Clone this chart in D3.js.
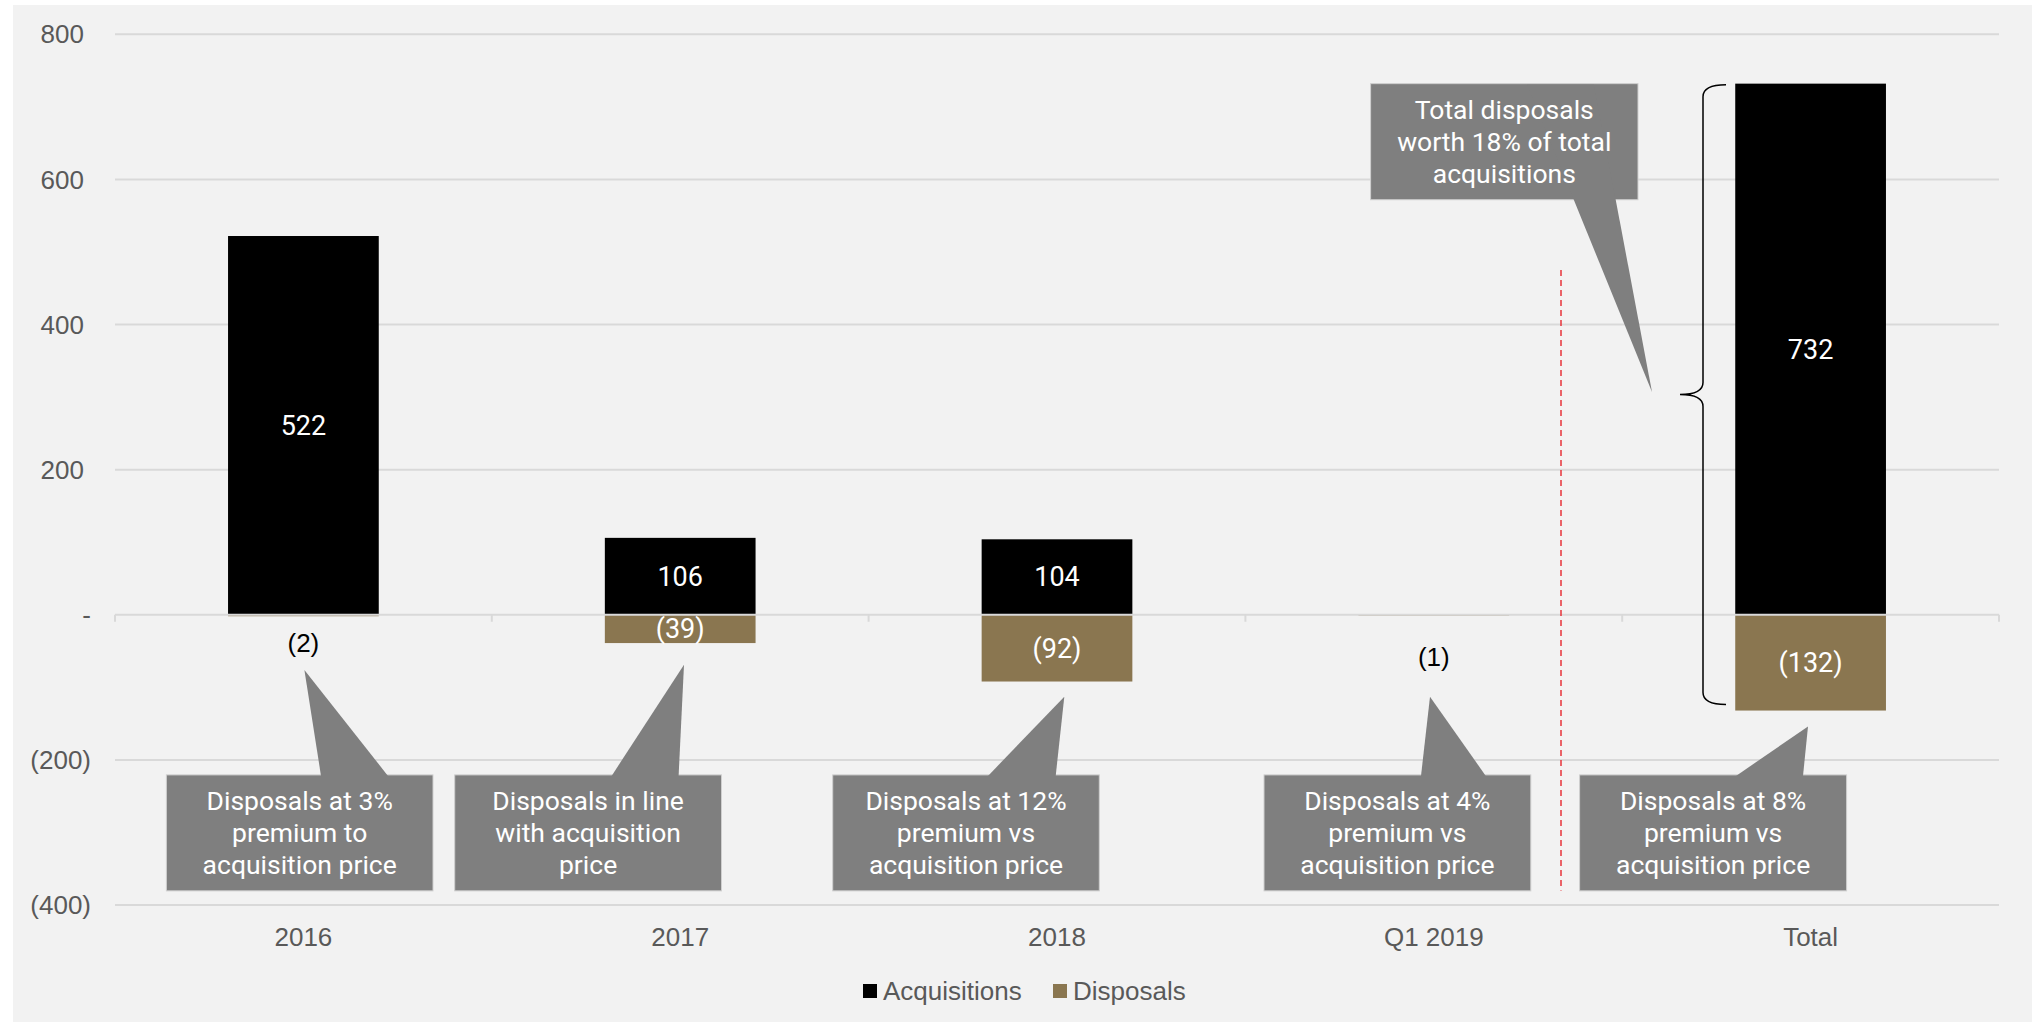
<!DOCTYPE html>
<html>
<head>
<meta charset="utf-8">
<script src="https://cdn.jsdelivr.net/npm/d3@7"></script>
<style>
  html, body { margin: 0; padding: 0; background: #ffffff; }
  svg { display: block; }
</style>
</head>
<body>
<svg id="chart" width="2038" height="1023"></svg>
<script>
// ---------- data ----------
const categories = ["2016", "2017", "2018", "Q1 2019", "Total"];
const acquisitions = [522, 106, 104, 0, 732];
const disposals = [-2, -39, -92, -1, -132];
const yTicks = [-400, -200, 0, 200, 400, 600, 800];
const yTickLabels = ["(400)", "(200)", "-", "200", "400", "600", "800"];
const seriesNames = ["Acquisitions", "Disposals"];
const calloutTexts = [
  ["Disposals at 3%", "premium to", "acquisition price"],
  ["Disposals in line", "with acquisition", "price"],
  ["Disposals at 12%", "premium vs", "acquisition price"],
  ["Disposals at 4%", "premium vs", "acquisition price"],
  ["Disposals at 8%", "premium vs", "acquisition price"]
];
const topCalloutText = ["Total disposals", "worth 18% of total", "acquisitions"];

// ---------- layout ----------
const colors = { acq: "#000000", disp: "#8a7650", grid: "#d9d9d9", axisText: "#595959", callout: "#7f7f7f" };
const svg = d3.select("#chart");

svg.append("rect").attr("x", 13).attr("y", 5).attr("width", 2019).attr("height", 1017).attr("fill", "#f2f2f2");

const x = d3.scaleBand().domain(categories).range([115, 1999]).paddingInner(0.6).paddingOuter(0.3);
const y = d3.scaleLinear().domain([-400, 800]).range([905, 34.3]);
const cx = c => x(c) + x.bandwidth() / 2;

// gridlines
svg.append("g").selectAll("line").data(yTicks.filter(v => v !== 0)).join("line")
  .attr("x1", 115).attr("x2", 1999)
  .attr("y1", d => y(d)).attr("y2", d => y(d))
  .attr("stroke", colors.grid).attr("stroke-width", 2);

// y tick labels
svg.append("g").selectAll("text").data(yTicks).join("text")
  .attr("x", d => d > 0 ? 84 : 91)
  .attr("y", d => y(d))
  .attr("dy", "0.35em")
  .attr("text-anchor", "end")
  .attr("font-family", "Liberation Sans, Arial, sans-serif")
  .attr("font-size", 26)
  .attr("fill", colors.axisText)
  .text((d, i) => yTickLabels[i]);

// bars
const rows = categories.map((c, i) => ({ c, acq: acquisitions[i], disp: disposals[i] }));
const barG = svg.append("g");
barG.selectAll("rect.acq").data(rows.filter(r => r.acq > 0)).join("rect")
  .attr("class", "acq")
  .attr("x", d => x(d.c)).attr("width", x.bandwidth())
  .attr("y", d => y(d.acq)).attr("height", d => y(0) - y(d.acq))
  .attr("fill", colors.acq);
barG.selectAll("rect.disp").data(rows).join("rect")
  .attr("class", "disp")
  .attr("x", d => x(d.c)).attr("width", x.bandwidth())
  .attr("y", y(0)).attr("height", d => y(d.disp) - y(0))
  .attr("fill", colors.disp);

// baseline axis with ticks at band boundaries
const axisG = svg.append("g");
axisG.append("line").attr("x1", 115).attr("x2", 1999).attr("y1", y(0)).attr("y2", y(0))
  .attr("stroke", colors.grid).attr("stroke-width", 2);
const boundaries = d3.range(categories.length + 1).map(i => 115 + i * x.step());
axisG.selectAll("line.tick").data(boundaries).join("line")
  .attr("class", "tick")
  .attr("x1", d => d).attr("x2", d => d)
  .attr("y1", y(0)).attr("y2", y(0) + 7)
  .attr("stroke", colors.grid).attr("stroke-width", 2);

// category labels
svg.append("g").selectAll("text").data(categories).join("text")
  .attr("x", d => cx(d)).attr("y", 937).attr("dy", "0.35em")
  .attr("text-anchor", "middle")
  .attr("font-family", "Liberation Sans, Arial, sans-serif")
  .attr("font-size", 26).attr("fill", colors.axisText)
  .text(d => d);

// data labels
const fmt = v => v < 0 ? "(" + Math.abs(v) + ")" : String(v);
const labG = svg.append("g");
labG.selectAll("text.acq").data(rows.filter(r => r.acq > 0)).join("text")
  .attr("x", d => cx(d.c)).attr("y", d => (y(d.acq) + y(0)) / 2).attr("dy", "0.35em")
  .attr("text-anchor", "middle").attr("font-family", "Roboto, sans-serif").attr("font-size", 27)
  .attr("fill", "#ffffff").text(d => fmt(d.acq));
const outsideOffset = { "2016": 27, "Q1 2019": 41 };
labG.selectAll("text.disp").data(rows).join("text")
  .attr("x", d => cx(d.c))
  .attr("y", d => Math.abs(d.disp) >= 20 ? (y(d.disp) + y(0)) / 2 : y(d.disp) + outsideOffset[d.c])
  .attr("dy", "0.35em")
  .attr("text-anchor", "middle")
  .attr("font-family", d => Math.abs(d.disp) >= 20 ? "Roboto, sans-serif" : "Liberation Sans, Arial, sans-serif")
  .attr("font-size", d => Math.abs(d.disp) >= 20 ? 27 : 26)
  .attr("fill", d => Math.abs(d.disp) >= 20 ? "#ffffff" : "#000000")
  .text(d => fmt(d.disp));

// red dashed separator
svg.append("line").attr("x1", 1561).attr("x2", 1561).attr("y1", y(475)).attr("y2", y(-380))
  .attr("stroke", "#e8353b").attr("stroke-width", 1.5).attr("stroke-dasharray", "6,4");

// callouts (pixel offsets relative to band centre)
const calloutLayout = [
  { box0: -137, box1: 129.6, b0: 17.6, b1: 84.6, tipDx: 1, tipV: -76 },
  { box0: -225.5, box1: 41.3, b0: -68.6, b1: -1.6, tipDx: 3.8, tipV: -69 },
  { box0: -224.3, box1: 42.3, b0: -69, b1: -1.3, tipDx: 7.3, tipV: -113 },
  { box0: -169.8, box1: 97, b0: -12.8, b1: 52, tipDx: -3.8, tipV: -113 },
  { box0: -231, box1: 36, b0: -74.6, b1: -7.6, tipDx: -2.6, tipV: -154 }
];
const boxTopV = -220.7, boxBotV = -380.5;
function drawCallout(g, left, right, top, bottom, base0, base1, tipX, tipY, lines) {
  g.append("rect").attr("x", left).attr("y", top).attr("width", right - left).attr("height", bottom - top)
    .attr("fill", colors.callout).attr("stroke", "#cfcfcf").attr("stroke-width", 1);
  g.append("path").attr("d", `M${base0},${top + 1}L${tipX},${tipY}L${base1},${top + 1}Z`).attr("fill", colors.callout);
  const mid = (top + bottom) / 2, lh = 31.7;
  g.selectAll("text").data(lines).join("text")
    .attr("x", (left + right) / 2).attr("y", (d, i) => mid + (i - 1) * lh).attr("dy", "0.35em")
    .attr("text-anchor", "middle").attr("font-family", "Roboto, sans-serif").attr("font-size", 26.5)
    .attr("fill", "#ffffff").text(d => d);
}
categories.forEach((c, i) => {
  const L = calloutLayout[i], ccx = cx(c);
  drawCallout(svg.append("g"), ccx + L.box0, ccx + L.box1, y(boxTopV), y(boxBotV),
    ccx + L.b0, ccx + L.b1, ccx + L.tipDx, y(L.tipV), calloutTexts[i]);
});
// top callout near Total
{
  const ccx = cx("Total");
  drawCallout(svg.append("g"), ccx - 440, ccx - 172.6, y(732), y(572),
    ccx - 283.6, ccx - 216.6, ccx - 158.6, y(307), topCalloutText);
}

// brace around Total bar
{
  const bx = 1703, top = y(732) + 1, bot = y(-132) - 6, mid = (top + bot) / 2, ex = 1726, px = 1680;
  svg.append("path")
    .attr("d", `M${ex},${top} Q${bx},${top} ${bx},${top + 12} L${bx},${mid - 12} Q${bx},${mid} ${px},${mid} Q${bx},${mid} ${bx},${mid + 12} L${bx},${bot - 12} Q${bx},${bot} ${ex},${bot}`)
    .attr("fill", "none").attr("stroke", "#000000").attr("stroke-width", 1.5);
}

// legend
const legend = svg.append("g");
const legendItems = [
  { name: seriesNames[0], color: colors.acq, x: 863 },
  { name: seriesNames[1], color: colors.disp, x: 1053 }
];
legendItems.forEach(it => {
  legend.append("rect").attr("x", it.x).attr("y", 984).attr("width", 14).attr("height", 14).attr("fill", it.color);
  legend.append("text").attr("x", it.x + 20).attr("y", 991).attr("dy", "0.35em")
    .attr("font-family", "Liberation Sans, Arial, sans-serif").attr("font-size", 26)
    .attr("fill", colors.axisText).text(it.name);
});
</script>
</body>
</html>
